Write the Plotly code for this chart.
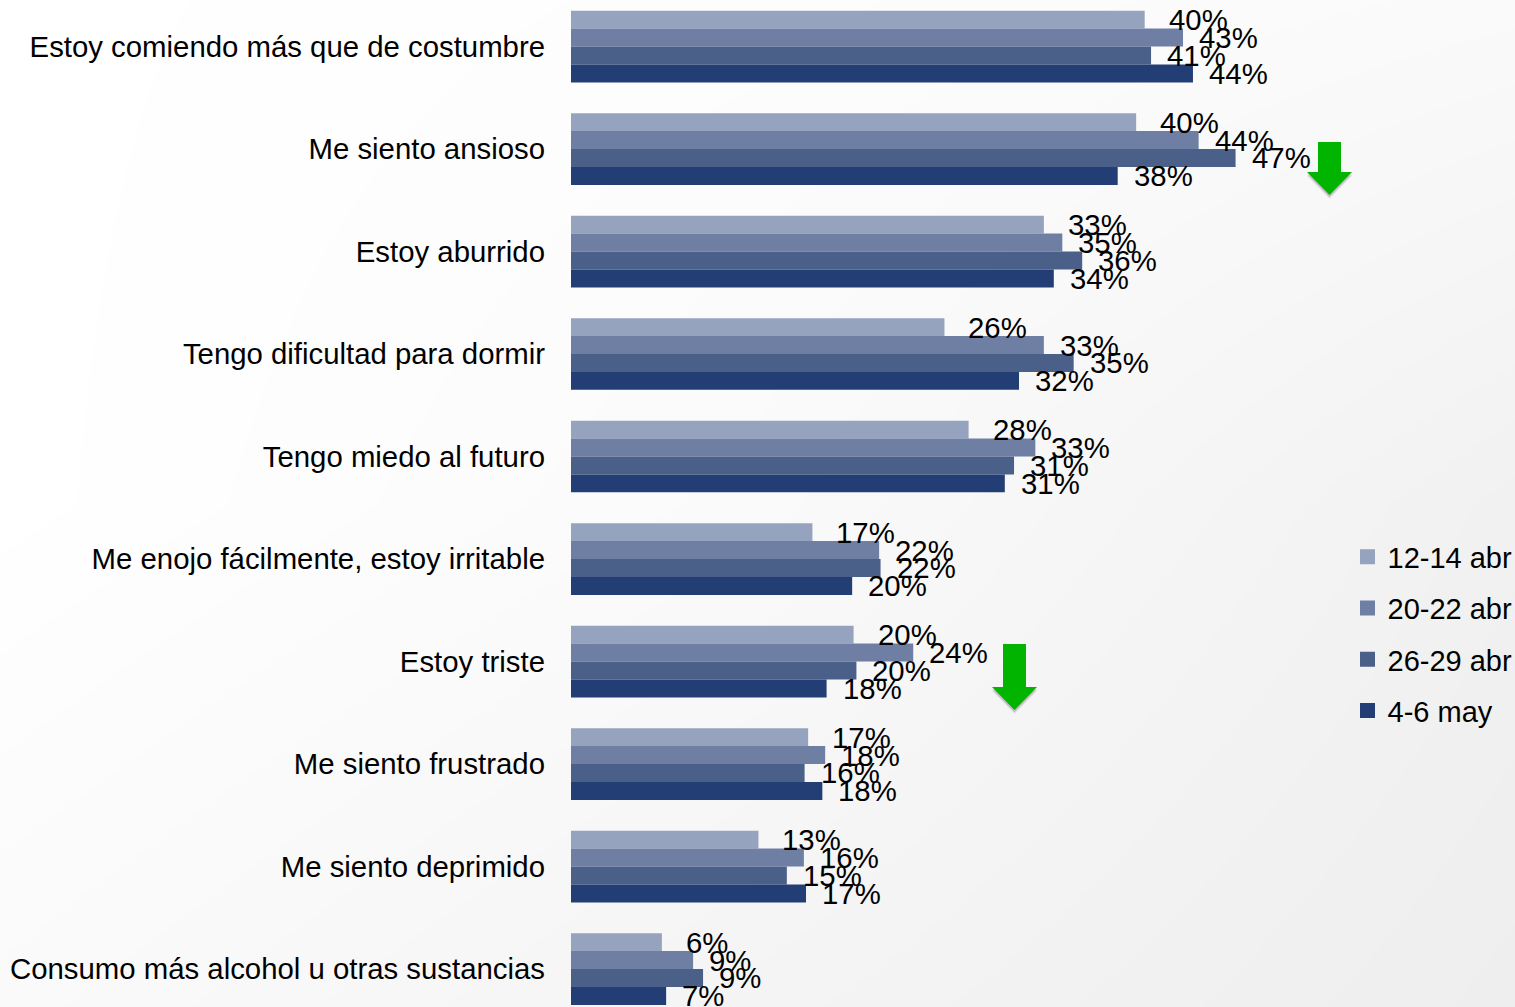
import plotly.graph_objects as go

W, H = 1515, 1007

categories = [
    "Estoy comiendo más que de costumbre",
    "Me siento ansioso",
    "Estoy aburrido",
    "Tengo dificultad para dormir",
    "Tengo miedo al futuro",
    "Me enojo fácilmente, estoy irritable",
    "Estoy triste",
    "Me siento frustrado",
    "Me siento deprimido",
    "Consumo más alcohol u otras sustancias",
]
series_names = ["12-14 abr", "20-22 abr", "26-29 abr", "4-6 may"]
abr_12_14 = [40.4, 39.8, 33.3, 26.3, 28.0, 17.0, 19.9, 16.7, 13.2, 6.4]
abr_20_22 = [43.1, 44.2, 34.6, 33.3, 32.7, 21.7, 24.1, 17.9, 16.4, 8.6]
abr_26_29 = [40.85, 46.8, 36.0, 35.4, 31.2, 21.8, 20.1, 16.45, 15.2, 9.3]
may_4_6 = [43.8, 38.5, 34.0, 31.55, 30.55, 19.8, 18.0, 17.7, 16.55, 6.7]
series_values = [abr_12_14, abr_20_22, abr_26_29, may_4_6]
colors = ["#95A3BE", "#6F7FA3", "#4A6089", "#233E75"]
label_gap = [24, 16, 16, 16]
background_levels = [
    [250, 244, 238],
    [255, 250, 241],
    [255, 253, 250],
]

FONT = "Liberation Sans"
FS = 29.35
BAR_GAP = 0.3
bar_h = (1 - BAR_GAP) / len(series_names)

fig = go.Figure()

# page background: soft diagonal gradient
fig.add_trace(go.Heatmap(
    z=background_levels, x=[0, 1, 2], y=[0, 1, 2], zsmooth="best", showscale=False,
    colorscale=[[0, "rgb(238,238,238)"], [1, "rgb(255,255,255)"]], zmin=238, zmax=255,
    hoverinfo="skip", xaxis="x", yaxis="y",
))

annotations = []
for j, (name, vals, col) in enumerate(zip(series_names, series_values, colors)):
    fig.add_trace(go.Bar(
        y=categories, x=vals, name=name, orientation="h", xaxis="x2", yaxis="y2",
        marker=dict(color=col, line=dict(width=0)), showlegend=False, legendgroup=name,
        hovertemplate="%{y}<br>" + name + ": %{x:.0f}%<extra></extra>",
    ))
    fig.add_trace(go.Scatter(
        x=[None], y=[None], mode="markers", name=name, xaxis="x2", yaxis="y2", legendgroup=name,
        marker=dict(symbol="square", size=15, color=col), showlegend=True,
    ))
    for i, v in enumerate(vals):
        annotations.append(dict(
            x=v, y=i + (j - (len(series_names) - 1) / 2) * bar_h, xref="x2", yref="y2",
            text=f"{round(v)}%", showarrow=False, xanchor="left", yanchor="middle",
            xshift=label_gap[j], yshift=0, borderpad=0, borderwidth=0,
            font=dict(family=FONT, size=FS, color="#000000"),
        ))


def px(x):
    return x / W


def py(y):
    return 1 - y / H


def arrow_path(dy, left, top, shaft):
    neck = top + shaft
    pts = [(left + 11, top), (left + 34, top), (left + 34, neck), (left + 45, neck),
           (left + 22.5, neck + 23), (left, neck), (left + 11, neck)]
    return "M " + " L ".join(f"{px(a):.5f},{py(b + dy):.5f}" for a, b in pts) + " Z"


shapes = []
for left, top, shaft in [(1307, 142, 30), (992, 644, 43)]:
    for off, op in [(4, 0.06), (3, 0.08), (2, 0.10)]:
        shapes.append(dict(type="path", xref="paper", yref="paper", path=arrow_path(off, left, top, shaft),
                           fillcolor=f"rgba(0,0,0,{op})", line=dict(width=0), layer="above"))
    shapes.append(dict(type="path", xref="paper", yref="paper", path=arrow_path(0, left, top, shaft),
                       fillcolor="#00B400", line=dict(width=0), layer="above"))

# vertical range: 102.5 px per category, first category centred at 46.5 px
pitch = 102.5
y_top = (0 - 46.5) / pitch
y_bot = (H - 46.5) / pitch

fig.update_layout(
    width=W, height=H, margin=dict(l=0, r=0, t=0, b=0, autoexpand=False),
    paper_bgcolor="#FFFFFF", plot_bgcolor="rgba(0,0,0,0)",
    barmode="group", bargap=BAR_GAP, bargroupgap=0,
    font=dict(family=FONT, size=FS, color="#000000"),
    xaxis=dict(domain=[0, 1], range=[0, 2], visible=False, fixedrange=True),
    yaxis=dict(domain=[0, 1], range=[0, 2], visible=False, fixedrange=True),
    xaxis2=dict(domain=[571 / W, 1], range=[0, 944 / 14.2], visible=False, anchor="y2", fixedrange=True),
    yaxis2=dict(domain=[0, 1], range=[y_bot, y_top], anchor="x2", type="category",
                categoryorder="array", categoryarray=categories, fixedrange=True,
                showgrid=False, zeroline=False, showline=False, ticks="",
                ticklabelstandoff=25, tickfont=dict(family=FONT, size=FS, color="#000000")),
    legend=dict(x=1347.5 / W, y=1 - 531.5 / H, xanchor="left", yanchor="top",
                bgcolor="rgba(0,0,0,0)", borderwidth=0, traceorder="grouped", tracegroupgap=10.5,
                itemwidth=30, font=dict(family=FONT, size=29, color="#000000")),
    annotations=annotations, shapes=shapes, showlegend=True,
)

fig.write_html("out.html", config={"displayModeBar": False},
               post_script="document.body.style.margin='0';document.body.style.overflow='hidden';")
